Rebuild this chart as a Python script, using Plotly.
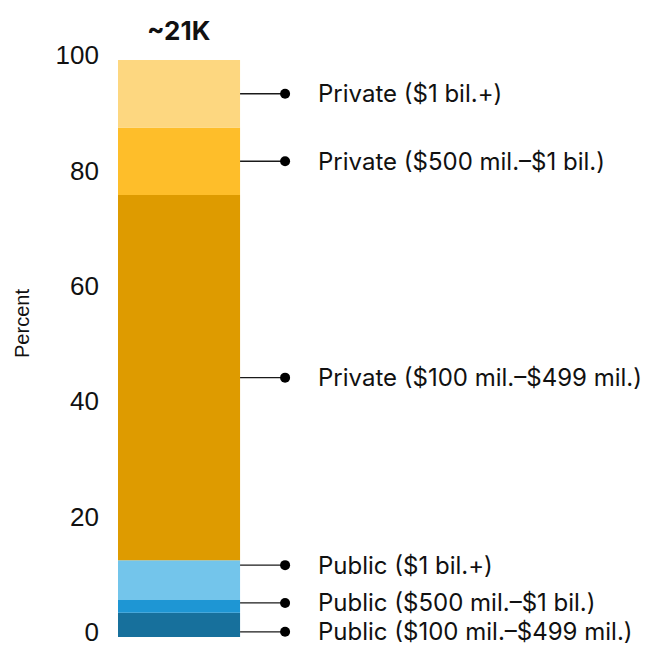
import plotly.graph_objects as go

# Data (bottom to top)
segments = [
    "Public ($100 mil.–$499 mil.)",
    "Public ($500 mil.–$1 bil.)",
    "Public ($1 bil.+)",
    "Private ($100 mil.–$499 mil.)",
    "Private ($500 mil.–$1 bil.)",
    "Private ($1 bil.+)",
]
percent = [4.2, 2.2, 6.9, 63.3, 11.7, 11.7]
colors = ["#17709C", "#1E96D4", "#73C5EB", "#DE9B00", "#FEBE2A", "#FDD780"]
bar_label = "~21K"
y_ticks = [0, 20, 40, 60, 80, 100]
# label placement (in % units) for the small public segments, spread to avoid overlap
label_offsets = [-1.2, 0.6, 2.6, 0, 0, 0]

FONT = "Liberation Sans, Arial, sans-serif"
LFONT = "Inter, Liberation Sans, sans-serif"

fig = go.Figure()
base = 0
mids = []
for name, v, c in zip(segments, percent, colors):
    fig.add_trace(go.Bar(
        x=[0], y=[v], base=[base], width=1.0, marker=dict(color=c, line=dict(width=0)),
        name=name, showlegend=False, hoverinfo="skip"))
    mids.append(base + v / 2)
    base += v

x_bar_edge = 0.5
x_dot = 0.5 + 45 / 122
x_text = 0.5 + 76 / 122

for name, m, off in zip(segments, mids, label_offsets):
    ly = m + off
    fig.add_trace(go.Scatter(
        x=[x_bar_edge, x_dot], y=[ly, ly], mode="lines",
        line=dict(color="#1a1a1a", width=1.3), showlegend=False, hoverinfo="skip"))
    fig.add_trace(go.Scatter(
        x=[x_dot], y=[ly], mode="markers",
        marker=dict(color="#000000", size=10), showlegend=False, hoverinfo="skip"))
    fig.add_annotation(x=x_text, y=ly, text=name, showarrow=False, xanchor="left",
                       yanchor="middle", font=dict(family=LFONT, size=24, color="#111"))

fig.add_annotation(x=0, y=1, xref="x", yref="paper", yshift=30, text="<b>" + bar_label + "</b>",
                   showarrow=False, yanchor="middle", font=dict(family=LFONT, size=26, color="#111"))
fig.add_annotation(x=-0.2055, y=0.544, xref="paper", yref="paper", text="Percent",
                   textangle=-90, showarrow=False, font=dict(family=FONT, size=20, color="#111"))

fig.update_layout(
    width=649, height=648,
    margin=dict(l=118, r=0, t=60, b=11, autoexpand=False),
    plot_bgcolor="white", paper_bgcolor="white",
    barmode="overlay",
    xaxis=dict(range=[-0.5, 3.85], visible=False, fixedrange=True, automargin=False),
    yaxis=dict(range=[0, 100], tickvals=y_ticks, showgrid=False, zeroline=False,
               showline=False, ticks="", ticklabelstandoff=18, ticklabeloverflow="allow",
               ticklabelshift=-5, automargin=False,
               tickfont=dict(family=FONT, size=26, color="#111")),
)

fig.write_html("out.html")
